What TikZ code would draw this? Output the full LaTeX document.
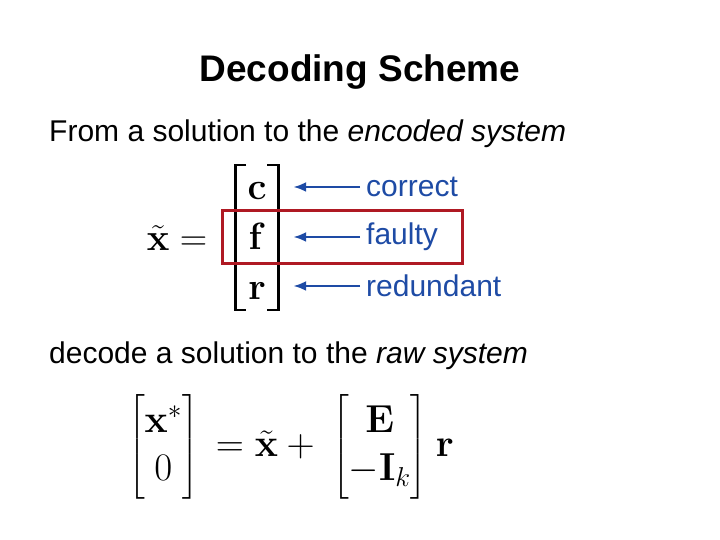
\documentclass[tikz,border=0pt]{standalone}
\usepackage{fix-cm}
\usepackage{amsmath}
\usepackage[no-math]{fontspec}
\setmainfont{Liberation Sans}
\usepackage{tikz}
\usetikzlibrary{positioning}
\usetikzlibrary{arrows.meta}
\definecolor{lblue}{RGB}{30,75,165}
\definecolor{boxred}{RGB}{175,25,35}

\begin{document}
\begin{tikzpicture}[
    x=1pt, y=1pt,
    title/.style={font=\fontsize{37}{44}\selectfont\bfseries, inner sep=0pt},
    line/.style={font=\fontsize{30}{36}\selectfont, anchor=base west, inner sep=0pt},
    entry/.style={font=\fontsize{38}{48}\selectfont, minimum width=72pt, inner sep=0pt, anchor=base},
    tag/.style={font=\fontsize{30}{36}\selectfont, text=lblue, anchor=west, inner xsep=6pt, inner ysep=0pt},
    pointer/.style={-{Latex[length=13pt,width=10pt]}, lblue, line width=2.6pt},
    bracket/.style={line width=2.8pt}
]
    \useasboundingbox (0,0) rectangle (720,540);

    \node[title] (head) at (360,468) {Decoding Scheme};
    \node[line] (from) at (49,398) {From a solution to the \textit{encoded system}};

    % encoded vector
    \node[entry] (xt) at (177,289) {$\tilde{\mathbf{x}} =$};
    \node[entry] (c) at (257,340) {$\mathbf{c}$};
    \node[entry] (f) at (257,290) {$\mathbf{f}$};
    \node[entry] (r) at (257,240) {$\mathbf{r}$};
    \draw[bracket] (246,375) -- (235.5,375) -- (235.5,230) -- (246,230);
    \draw[bracket] (267,375) -- (278.5,375) -- (278.5,230) -- (267,230);

    \node[tag] (lc) at (360,353) {correct};
    \node[tag] (lf) at (360,303) {faulty};
    \node[tag] (lr) at (360,254) {redundant};
    \draw[pointer] (lc.west) -- (lc.west -| c.east);
    \draw[pointer] (lf.west) -- (lf.west -| f.east);
    \draw[pointer] (lr.west) -- (lr.west -| r.east);

    \draw[boxred, line width=3pt] (222.5,329.5) rectangle (462.5,276);

    \node[line] (decode) at (49,176) {decode a solution to the \textit{raw system}};

    % raw solution
    \node[inner sep=0pt] (raw) at (291,93) {\fontsize{39}{48}\selectfont\arraycolsep=8pt
        $\begin{bmatrix}\mathbf{x}^*\\ 0\end{bmatrix}\mkern3mu = \tilde{\mathbf{x}} +\mkern4mu
        \begin{bmatrix}\mathbf{E}\\ -\mathbf{I}_k\end{bmatrix}\mkern1mu\mathbf{r}$};
\end{tikzpicture}
\end{document}
